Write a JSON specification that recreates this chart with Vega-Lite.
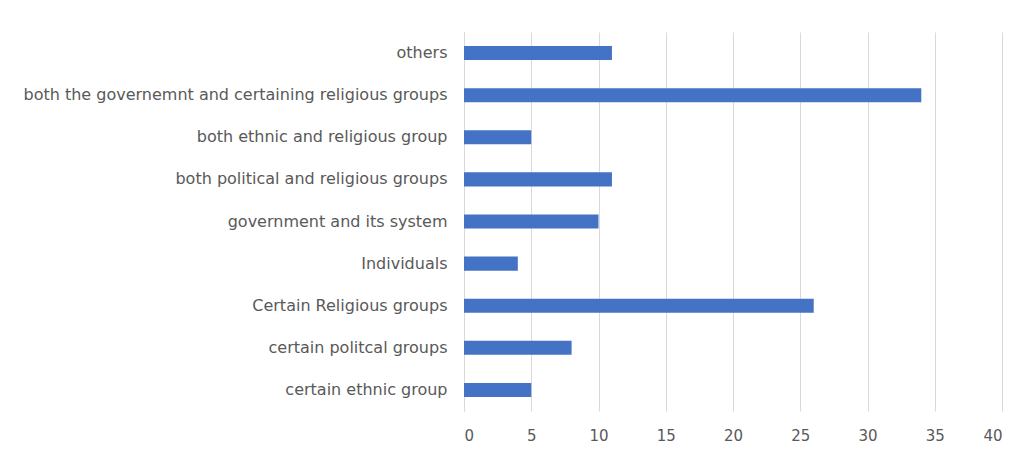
{
  "$schema": "https://vega.github.io/schema/vega-lite/v6.json",
  "autosize": "none",
  "width": 538,
  "height": 379,
  "padding": {"left": 464, "top": 32, "right": 25, "bottom": 48},
  "background": "white",
  "data": {"values": [
    {"category": "others", "value": 11},
    {"category": "both the governemnt and certaining religious groups", "value": 34},
    {"category": "both ethnic and religious group", "value": 5},
    {"category": "both political and religious groups", "value": 11},
    {"category": "government and its system", "value": 10},
    {"category": "Individuals", "value": 4},
    {"category": "Certain Religious groups", "value": 26},
    {"category": "certain politcal groups", "value": 8},
    {"category": "certain ethnic group", "value": 5}
  ]},
  "mark": {"type": "bar", "color": "#4472C4"},
  "encoding": {
    "y": {
      "field": "category", "type": "nominal", "sort": null,
      "scale": {"paddingInner": 0.667, "paddingOuter": 0.333},
      "axis": {"title": null, "ticks": false, "domain": true, "domainColor": "#d9d9d9", "grid": false,
               "labelFont": "DejaVu Sans", "labelFontSize": 16, "labelColor": "#595959", "labelPadding": 17, "labelLimit": 500}
    },
    "x": {
      "field": "value", "type": "quantitative",
      "scale": {"domain": [0, 40], "nice": false},
      "axis": {"title": null, "values": [0,5,10,15,20,25,30,35,40], "ticks": false, "domain": false,
               "grid": true, "gridColor": "#d9d9d9", "labelFont": "DejaVu Sans", "labelFontSize": 15,
               "labelColor": "#595959", "labelPadding": 17}
    }
  },
  "config": {"view": {"stroke": null}}
}
